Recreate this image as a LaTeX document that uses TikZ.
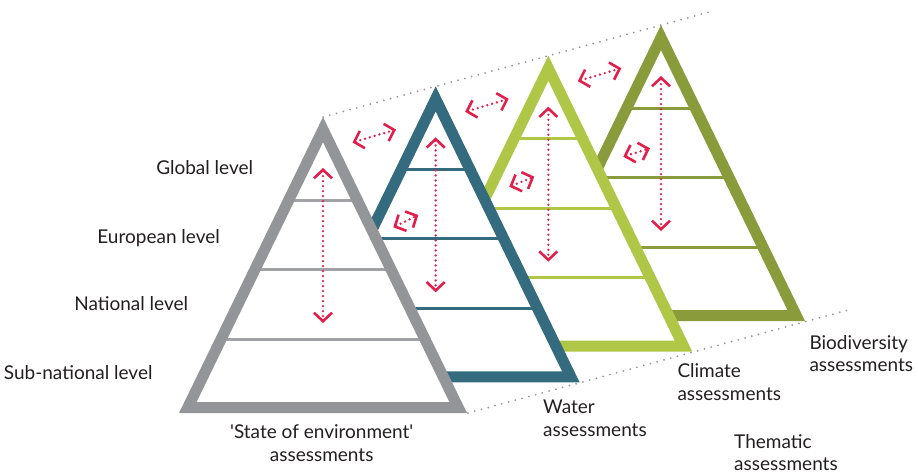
\documentclass[tikz,border=0pt]{standalone}
\usepackage{fontspec}
\setmainfont{Lato}[Ligatures=TeXOff]
\usetikzlibrary{arrows.meta}
\definecolor{pgray}{RGB}{148,149,153}
\definecolor{pgrayl}{RGB}{160,162,165}
\definecolor{pteal}{RGB}{52,107,127}
\definecolor{plime}{RGB}{176,198,70}
\definecolor{polive}{RGB}{137,155,58}
\definecolor{pred}{RGB}{228,30,75}
\definecolor{ptext}{RGB}{35,31,32}
\definecolor{pdot}{RGB}{150,150,150}
\tikzset{
  border/.style={line width=11pt, line join=miter},
  levelline/.style={line width=3pt},
  redarrow/.style={draw=pred, line width=2.6pt, line cap=round, dash pattern=on 0pt off 5pt,
    {Straight Barb[length=8.5pt,width=18pt]}-{Straight Barb[length=8.5pt,width=18pt]}},
  guide/.style={draw=pdot, line width=2pt, line cap=round, dash pattern=on 0pt off 7pt},
  lbl/.style={font=\fontsize{19}{22.5}\selectfont, text=ptext, inner sep=0pt}
}
\newcommand\drawpyramid[4]{%
  \begin{scope}[shift={(#2)}]
    \fill[white] (323,129.6) -- (187.8,407.5) -- (458.2,407.5) -- cycle;
    \draw[levelline, draw=#4] (288.7,200) -- (357.3,200);
    \draw[levelline, draw=#4] (254.9,269.5) -- (391.1,269.5);
    \draw[levelline, draw=#4] (221.1,339) -- (424.9,339);
    \draw[border, draw=#3] (323,129.6) -- (187.8,407.5) -- (458.2,407.5) -- cycle;
    \coordinate (#1-apex) at (323,117);
    \coordinate (#1-corner) at (468,413);
    \coordinate (#1-top) at (323,168);
    \coordinate (#1-bot) at (323,323);
    \coordinate (#1-a) at (352.5,142.5);
    \coordinate (#1-b) at (396,129.5);
  \end{scope}}
\begin{document}
\begin{tikzpicture}[x=1pt,y=-1pt]
\useasboundingbox (0,0) rectangle (918,474);
% guide lines
\coordinate (gtopend) at (713,11);
\coordinate (gbotend) at (852,309);
\coordinate (gapex0) at (323,117);
\coordinate (gcorner0) at (468,413);
\draw[guide] (gapex0) -- (gtopend);
\draw[guide] (gcorner0) -- (gbotend);
% pyramids back to front
\drawpyramid{olive}{338,-92}{polive}{polive}
\drawpyramid{lime}{225.33,-61.33}{plime}{plime}
\drawpyramid{teal}{112.67,-30.67}{pteal}{pteal}
\drawpyramid{gray}{0,0}{pgray}{pgrayl}
% vertical arrows
\draw[redarrow] (gray-top) -- (gray-bot);
\draw[redarrow] (teal-top) -- (teal-bot);
\draw[redarrow] (lime-top) -- (lime-bot);
\draw[redarrow] (olive-top) -- (olive-bot);
% apex arrows
\draw[redarrow] (gray-a) -- (gray-b);
\draw[redarrow] (teal-a) -- (teal-b);
\draw[redarrow] (lime-a) -- (lime-b);
% small arrows
\coordinate (s1a) at (393.3,227.3); \coordinate (s1b) at (418.3,215);
\coordinate (s2a) at (509.3,186.7); \coordinate (s2b) at (534.3,176.7);
\coordinate (s3a) at (623.3,156.7); \coordinate (s3b) at (650,148.3);
\draw[redarrow] (s1a) -- (s1b);
\draw[redarrow] (s2a) -- (s2b);
\draw[redarrow] (s3a) -- (s3b);
% labels
\node[lbl, anchor=base east] (lglobal) at (253.3,174.3) {Global level};
\node[lbl, anchor=base east] (leuro) at (220,243) {European level};
\node[lbl, anchor=base east] (lnat) at (188.3,310) {National level};
\node[lbl, anchor=base east] (lsub) at (152.7,379.3) {Sub-national level};
\node[lbl, anchor=base, align=center] (lsoe) at (321.7,461.2) {'State of environment'\\assessments};
\node[lbl, anchor=base west, align=left] (lwater) at (543,436.3) {Water\\assessments};
\node[lbl, anchor=base west, align=left] (lclim) at (677.3,400.2) {Climate\\assessments};
\node[lbl, anchor=base west, align=left] (lbio) at (809.3,371.5) {Biodiversity\\assessments};
\node[lbl, anchor=base west, align=left] (lthem) at (734,470.5) {Thematic\\assessments};
\end{tikzpicture}
\end{document}
